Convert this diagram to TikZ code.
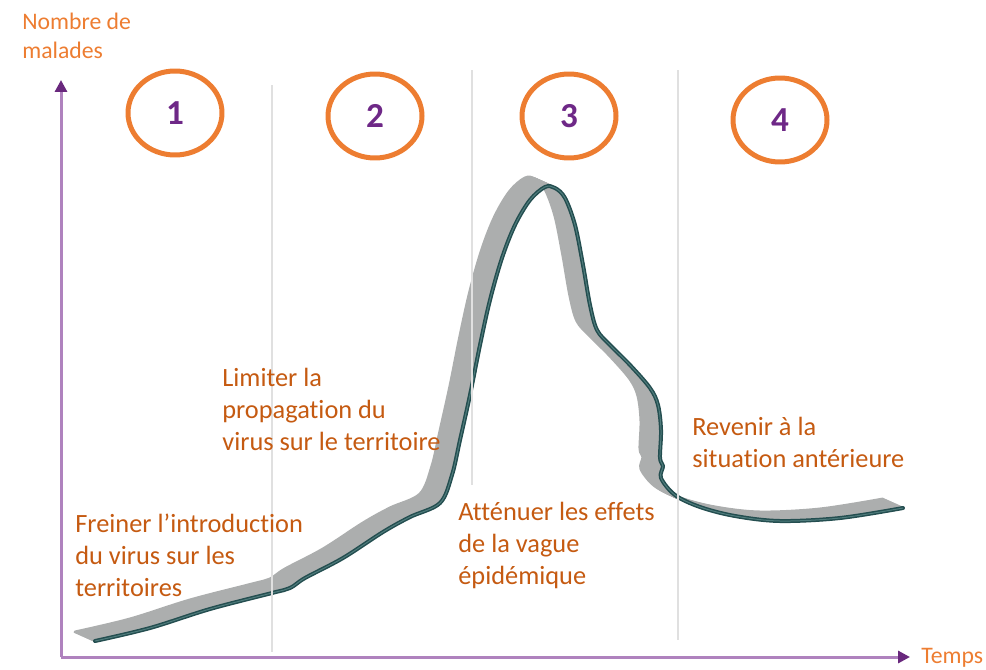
\documentclass[tikz,border=0pt]{standalone}
\usepackage{fontspec}
\setmainfont{Carlito}[Ligatures = NoCommon]
\usepackage{tikz}
\usetikzlibrary{arrows.meta}
\usetikzlibrary{shapes.geometric}
\definecolor{ribbon}{RGB}{172,174,174}
\definecolor{ribbonedge}{RGB}{36,78,80}
\definecolor{ribbonglint}{RGB}{80,125,125}
\definecolor{axisline}{RGB}{175,130,190}
\definecolor{axishead}{RGB}{105,40,125}
\definecolor{ring}{RGB}{237,125,49}
\definecolor{phasenum}{RGB}{110,40,135}
\definecolor{goaltext}{RGB}{197,90,17}
\definecolor{divline}{RGB}{224,224,224}
\tikzset{arrowaxis/.style = {axisline, line width = 0.06cm,
                             -{Triangle[length = 0.24cm, width = 0.24cm, color = axishead]}}}
\tikzset{phase/.style = {ellipse, draw = ring, line width = 0.1cm, minimum width = 1.88cm,
                         minimum height = 1.68cm, text = phasenum,
                         font = \bfseries\fontsize{20}{20}\selectfont}}
\tikzset{goal/.style = {anchor = base west, align = left, inner sep = 0, text = goaltext,
                        font = \fontsize{15}{18}\selectfont}}
\tikzset{axislabel/.style = {anchor = base west, align = left, inner sep = 0, text = ring,
                             font = \fontsize{13.5}{16.8}\selectfont}}
\tikzset{band/.style = {ribbon, line width = 0.06cm, line cap = round, line join = round}}
\tikzset{edge/.style = {ribbonedge, line width = 0.08cm, line cap = round, line join = round}}
\tikzset{glint/.style = {ribbonglint, line width = 0.02cm}}
\tikzset{divider/.style = {divline, line width = 0.04cm}}
\newcommand\epicurve{plot [smooth, tension = 0.55] coordinates {(95,641) (150,628) (210,609)
    (272,593) (290,588) (305,578) (343,558) (383,532) (410,517) (440,503) (452,475) (460,440)
    (470,395) (480,345) (490,300) (502,258) (515,225) (530,200) (545,187) (555,188) (565,198)
    (575,225) (583,265) (590,305) (597,330) (610,345) (630,365) (650,388) (658,405) (661,430)
    (660,458) (663,466) (661,478) (675,495) (700,507) (735,516) (780,521) (840,518) (903,508)}}

\begin{document}
\begin{tikzpicture}[x = 0.02cm, y = -0.02cm]
      \useasboundingbox (0,0) rectangle (986,669);

      \foreach \s in {12,...,0}
        \draw [band, shift = {({-20*\s/12}, {-9*\s/12})}] \epicurve;
      \draw [edge] \epicurve;
      \draw [glint] \epicurve;

      \draw [divider] (272,85) -- (272,652);
      \draw [divider] (472,70) -- (472,485);
      \draw [divider] (678,70) -- (678,640);

      \coordinate (origin) at (61,657);
      \coordinate (ytip) at (61,80);
      \coordinate (xtip) at (910,657);
      \draw [arrowaxis] (origin) -- (ytip);
      \draw [arrowaxis] (origin) -- (xtip);

      \node [axislabel] (ylabel) at (22,59) {Nombre de\\malades};
      \node [axislabel] (xlabel) at (921,663) {Temps};

      \node [phase] (p1) at (175,113) {1};
      \node [phase] (p2) at (375,116) {2};
      \node [phase] (p3) at (569,116) {3};
      \node [phase] (p4) at (780,120) {4};

      \node [goal] (g1) at (75,596) {Freiner l’introduction\\du virus sur les\\territoires};
      \node [goal] (g2) at (222,450) {Limiter la\\propagation du\\virus sur le territoire};
      \node [goal] (g3) at (458,584) {Atténuer les effets\\de la vague\\épidémique};
      \node [goal] (g4) at (692,467) {Revenir à la\\situation antérieure};
    \end{tikzpicture}
\end{document}
